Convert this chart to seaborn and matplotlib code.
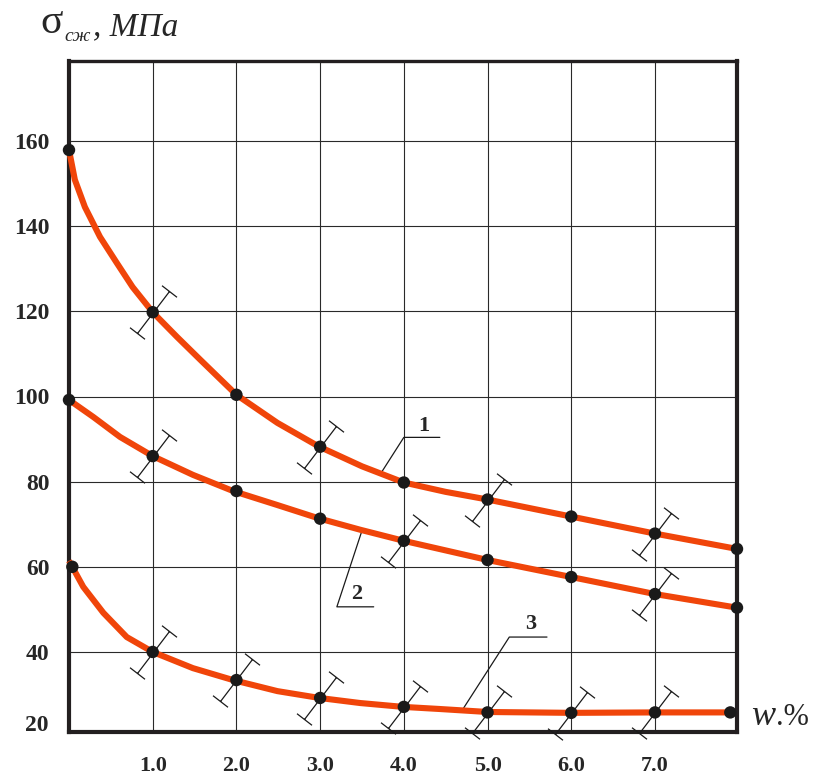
import numpy as np
import seaborn as sns
import matplotlib.pyplot as plt
from matplotlib.path import Path

# measured points (dots)
w_pts = [0, 1, 2, 3, 4, 5, 6, 7, 7.98]
s1_pts = [157.9, 119.8, 100.4, 88.2, 79.8, 75.8, 71.8, 67.8, 64.2]
s2_pts = [99.2, 86.0, 77.8, 71.3, 66.1, 61.6, 57.6, 53.6, 50.4]
w3_pts = [0.04, 1, 2, 3, 4, 5, 6, 7, 7.9]
s3_pts = [60.0, 40.0, 33.4, 29.2, 27.1, 25.8, 25.7, 25.8, 25.8]

# traced curves
w1_line = [0, 0.07, 0.19, 0.37, 0.57, 0.76, 1, 1.29, 1.57, 2, 2.49, 2.98, 3.5, 4, 4.5, 5, 6, 7, 7.98]
s1_line = [157.9, 150.9, 144.5, 137.5, 131.4, 125.7, 119.8, 114.0, 108.6, 100.4, 93.8, 88.3,
           83.6, 79.8, 77.6, 75.8, 71.8, 67.8, 64.2]
w2_line = [0, 0.29, 0.61, 1, 1.48, 1.96, 2.49, 2.98, 3.48, 4, 5, 6, 7, 7.98]
s2_line = [99.2, 95.2, 90.5, 86.0, 81.6, 77.8, 74.5, 71.4, 68.7, 66.1, 61.6, 57.6, 53.6, 50.4]
w3_line = [0, 0.17, 0.41, 0.69, 1, 1.48, 1.96, 2.49, 2.99, 3.48, 3.99, 4.43, 5, 6, 7, 7.9]
s3_line = [61.4, 55.3, 49.2, 43.5, 40.0, 36.2, 33.4, 30.8, 29.2, 28.0, 27.1, 26.6, 25.9, 25.7, 25.8, 25.8]

# points that carry an error bar
err1_w = [1, 3, 5, 7]
err2_w = [1, 4, 7]
err3_w = [1, 2, 3, 4, 5, 6, 7]

x_ticks = [1, 2, 3, 4, 5, 6, 7]
x_labels = ['1.0', '2.0', '3.0', '4.0', '5.0', '6.0', '7.0']
y_ticks = [40, 60, 80, 100, 120, 140, 160]

# curve labels: (text, text x, text y, shelf x0, shelf x1, shelf y, end x, end y)
curve_labels = [
    ('1', 4.24, 91.9, 4.0, 4.43, 90.4, 3.73, 82.1),
    ('2', 3.44, 52.4, 3.20, 3.64, 50.6, 3.50, 68.5),
    ('3', 5.51, 45.4, 5.26, 5.71, 43.5, 4.70, 26.4),
]

sns.set_style('white')
plt.rcParams['font.family'] = ['Liberation Serif', 'DejaVu Serif']

W, H = 813, 778
fig = plt.figure(figsize=(W / 100, H / 100), dpi=100)
ax = fig.add_axes([69 / W, 1 - 732 / H, (737 - 69) / W, (732 - 61) / H])

red = '#F0450A'

# error bar marker (slanted I-beam), coordinates in pixels, y up
bx, by = 16, 21
cx, cy = 7.5, -5.8
verts = [(-bx, -by), (bx, by),
         (bx - cx, by - cy), (bx + cx, by + cy),
         (-bx - cx, -by - cy), (-bx + cx, -by + cy)]
codes = [Path.MOVETO, Path.LINETO, Path.MOVETO, Path.LINETO, Path.MOVETO, Path.LINETO]
ibeam = Path(verts, codes)
ext = np.max(np.abs(verts))
ibeam_size = 2 * ext * 0.72

def err_points(ws, xs, ys):
    return [x for x in ws], [ys[xs.index(x)] for x in ws]

for ws, xs, ys in [(err1_w, w_pts, s1_pts), (err2_w, w_pts, s2_pts), (err3_w, w3_pts, s3_pts)]:
    ex, ey = err_points(ws, xs, ys)
    ax.plot(ex, ey, linestyle='none', marker=ibeam, markersize=ibeam_size,
            markerfacecolor='none', markeredgecolor='#1a1a1a', markeredgewidth=0.9,
            zorder=3, clip_on=False)

for wl, sl in [(w1_line, s1_line), (w2_line, s2_line), (w3_line, s3_line)]:
    sns.lineplot(x=wl, y=sl, ax=ax, color=red, linewidth=4.4, sort=False,
                 zorder=4, clip_on=False, solid_joinstyle='round', solid_capstyle='butt')

for wp, sp in [(w_pts, s1_pts), (w_pts, s2_pts), (w3_pts, s3_pts)]:
    sns.scatterplot(x=wp, y=sp, ax=ax, color='#1a1a1a', s=80, edgecolor='none',
                    zorder=5, clip_on=False)

for txt, tx, ty, x0, x1, sy, exx, eyy in curve_labels:
    ax.plot([x1, x0, exx], [sy, sy, eyy], color='#1a1a1a', linewidth=0.9, zorder=3)
    ax.text(tx, ty, txt, fontsize=16, fontweight='bold', ha='center', va='baseline')

ax.set_xlim(0, 7.98)
ax.set_ylim(21.2, 178.8)
ax.set_xticks(x_ticks)
ax.set_xticklabels(x_labels, fontsize=16, fontweight='bold')
ax.set_yticks(y_ticks)
ax.set_yticklabels([str(v) for v in y_ticks], fontsize=17, fontweight='bold')
ax.text(-0.03, 22.8, '20', transform=ax.get_yaxis_transform(), fontsize=17,
        fontweight='bold', ha='right', va='center')
ax.tick_params(axis='both', length=0)
ax.tick_params(axis='x', pad=17)
ax.tick_params(axis='y', pad=14)
ax.grid(True, color='#2a2a2a', linewidth=0.8)
ax.set_xlabel('')
ax.set_ylabel('')
for side in ['left', 'bottom', 'right', 'top']:
    ax.spines[side].set_visible(True)
    ax.spines[side].set_color('#231f20')
    ax.spines[side].set_linewidth(3.0)
ax.spines['top'].set_linewidth(2.4)

# axis titles
fig.text(40 / W, 1 - 33 / H, 'σ', fontsize=30, va='baseline', ha='left')
fig.text(64 / W, 1 - 41 / H, 'сж', fontsize=14, style='italic', va='baseline', ha='left')
fig.text(93 / W, 1 - 35 / H, ', МПа', fontsize=24, style='italic', va='baseline', ha='left')
fig.text(751 / W, 1 - 725 / H, 'w', fontsize=26, style='italic', va='baseline', ha='left')
fig.text(776 / W, 1 - 725 / H, '.%', fontsize=22, va='baseline', ha='left')

fig.savefig('out.png', dpi=100)
